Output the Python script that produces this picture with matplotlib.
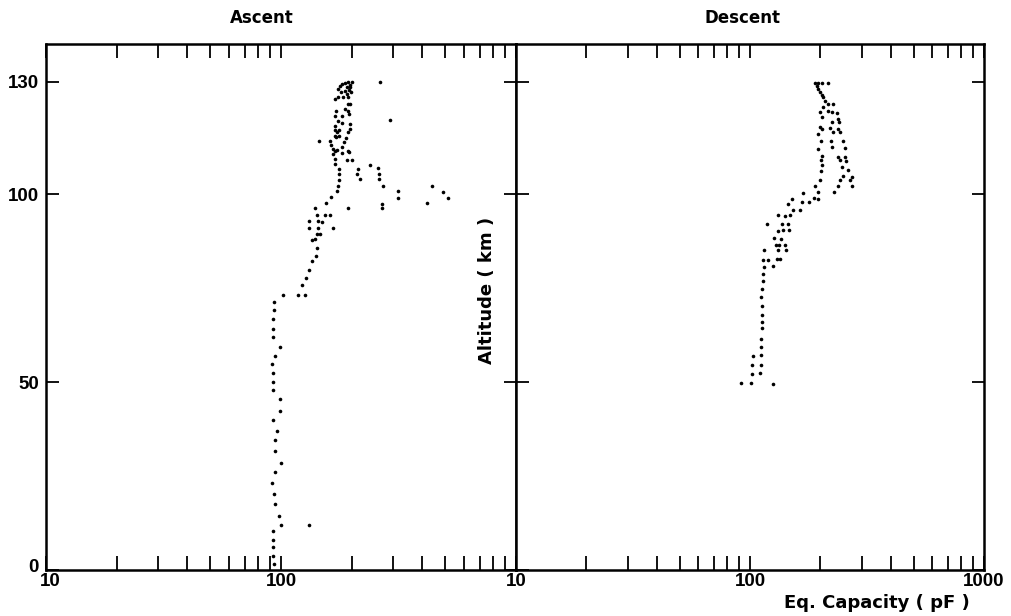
import matplotlib
matplotlib.use("Agg")
import matplotlib.pyplot as plt
import matplotlib.transforms as mtransforms
from matplotlib.ticker import FixedLocator, NullFormatter

# Ascent: altitude (km) and equivalent capacity (pF)
asc_alt = [129.8, 129.8, 129.5, 128.9, 128.0, 127.1, 127.6, 126.7, 125.8, 125.8,
           127.1, 128.5, 126.0, 125.4, 129.0, 128.5, 129.3, 127.8, 124.0, 124.0,
           122.7, 122.3, 122.3, 121.4, 120.9, 120.9, 119.6, 118.9, 118.7, 118.3,
           117.4, 117.0, 117.0, 116.5, 116.5, 115.6, 115.4, 115.2, 115.0, 114.3,
           114.3, 113.9, 113.0, 112.1, 111.6, 111.8, 112.5, 111.6, 111.2, 110.9,
           110.8, 109.4, 109.2, 109.2, 108.1, 106.8, 106.8, 107.8, 106.9, 105.4,
           104.1, 105.4, 104.1, 102.1, 105.3, 103.7, 102.1, 101.0, 99.2, 97.7,
           96.3, 97.5, 96.3, 101.0, 99.1, 97.7, 102.1, 100.7, 99.0, 129.8,
           119.8, 96.3, 94.6, 94.5, 94.4, 92.8, 92.8, 92.6, 91.1, 91.1,
           91.0, 89.5, 89.3, 88.2, 87.9, 85.7, 83.5, 82.2, 79.9, 77.8,
           75.8, 73.3, 73.3, 73.3, 71.3, 69.2, 66.7, 64.2, 61.9, 59.4,
           56.9, 54.7, 52.5, 50.1, 47.8, 45.5, 42.4, 40.0, 37.1, 34.6,
           31.6, 28.5, 26.0, 23.2, 20.3, 17.5, 14.4, 12.1, 12.1, 10.4,
           8.0, 6.2, 3.7, 1.5]
asc_cap = [200, 193, 187, 178, 175, 180, 187, 190, 184, 193,
           198, 197, 175, 170, 197, 190, 182, 194, 193, 197,
           187, 193, 172, 195, 170, 181, 174, 181, 197, 170,
           197, 176, 170, 173, 192, 169, 176, 172, 189, 145,
           162, 185, 164, 167, 170, 173, 181, 193, 195, 182,
           167, 169, 190, 200, 170, 177, 212, 240, 258, 210,
           216, 261, 262, 271, 177, 177, 174, 173, 164, 156,
           193, 270, 268, 316, 316, 419, 441, 491, 512, 264,
           291, 139, 142, 154, 162, 132, 144, 150, 131, 143,
           167, 142, 147, 140, 135, 142, 141, 136, 131, 128,
           123, 118, 126, 102, 93.3, 93.3, 92.7, 92.7, 92.7, 99.3,
           94.6, 91.9, 92.7, 92.7, 92.7, 99.3, 99.3, 92.7, 96.4, 94.6,
           94.2, 100, 94.2, 91.9, 93.7, 94.6, 98.4, 99.7, 131.6, 92.7,
           92.7, 92.7, 92.7, 93.0]

# Descent
desc_alt = [129.5, 129.5, 129.5, 129.5, 128.0, 127.1, 125.8, 124.9, 124.0, 124.0,
            123.2, 122.3, 121.8, 121.6, 121.8, 120.5, 119.2, 120.1, 119.2, 117.8,
            117.4, 117.7, 117.4, 116.5, 116.5, 116.1, 114.3, 114.3, 114.3, 112.5,
            112.4, 112.1, 110.3, 110.0, 110.0, 109.0, 109.0, 108.8, 107.7, 107.2,
            106.5, 106.3, 105.0, 104.7, 103.7, 103.7, 103.7, 102.1, 102.1, 102.1,
            100.6, 100.6, 100.4, 99.0, 98.8, 98.8, 97.5, 97.9, 97.9, 95.9,
            95.9, 94.4, 94.1, 94.4, 92.2, 92.0, 92.2, 90.2, 90.4, 90.6,
            88.4, 88.2, 86.4, 86.4, 86.4, 85.1, 85.1, 85.1, 82.4, 82.6,
            82.8, 82.8, 80.6, 81.0, 78.7, 76.9, 74.9, 72.7, 70.2, 68.0,
            66.0, 64.4, 61.6, 59.4, 56.9, 57.2, 54.5, 54.5, 52.3, 52.4,
            49.8, 49.8, 49.6, 128.8, 126.4]
desc_cap = [189.6, 196.0, 202.4, 216.3, 196.0, 199.3, 205.6, 209.2, 216.3, 227.1,
            205.6, 214.9, 223.5, 234.9, 199.3, 202.4, 223.5, 238.8, 241.1, 199.3,
            202.4, 219.9, 238.8, 227.1, 242.7, 196.0, 201.2, 222.0, 250.7, 223.5,
            254.9, 196.0, 202.4, 237.3, 253.5, 201.2, 242.7, 256.6, 202.4, 246.8,
            263.2, 201.2, 250.7, 271.9, 199.3, 242.7, 267.5, 189.6, 237.3, 273.5,
            196.0, 229.4, 169.2, 188.2, 196.0, 151.8, 144.9, 166.5, 178.7, 153.3,
            163.8, 132.1, 141.1, 148.3, 117.8, 136.5, 144.9, 131.3, 138.8, 146.8,
            127.0, 135.7, 128.7, 133.1, 141.1, 132.1, 142.5, 115.2, 114.0, 119.7,
            130.1, 134.4, 115.2, 125.8, 114.0, 114.0, 112.2, 111.4, 112.2, 112.2,
            112.2, 112.2, 111.4, 111.4, 102.6, 111.4, 101.6, 111.4, 101.6, 110.3,
            91.5, 100.9, 125.8, 193.0, 203.0]

x_major = [10, 100, 1000]
x_minor = [20, 30, 40, 50, 60, 70, 80, 90, 200, 300, 400, 500, 600, 700, 800, 900]
y_ticks = [0, 50, 100, 130]

tick_font = {"family": ["Liberation Sans", "DejaVu Sans"], "weight": "bold", "size": 13.5}
text_font = {"family": "DejaVu Sans", "weight": "bold", "size": 12}

fig = plt.figure(figsize=(10.11, 6.16), dpi=100)
ax1 = fig.add_axes([46 / 1011, 46 / 616, 470 / 1011, 526 / 616])
ax2 = fig.add_axes([516 / 1011, 46 / 616, 468 / 1011, 526 / 616])

for ax, cap, alt in [(ax1, asc_cap, asc_alt), (ax2, desc_cap, desc_alt)]:
    ax.plot(cap, alt, "o", ms=2.6, color="black", mew=0)
    ax.set_xscale("log")
    ax.set_xlim(10, 1000)
    ax.set_ylim(0, 140)
    ax.xaxis.set_major_locator(FixedLocator(x_major))
    ax.xaxis.set_minor_locator(FixedLocator(x_minor))
    ax.xaxis.set_minor_formatter(NullFormatter())
    ax.set_yticks(y_ticks)
    ax.tick_params(axis="x", which="both", direction="in", top=True,
                   length=10, width=1.3, pad=2)
    ax.tick_params(axis="y", direction="in", right=True, length=9, width=1.3, pad=5)
    for s in ax.spines.values():
        s.set_linewidth(1.8)

ax1.set_xticklabels(["10", "100", ""], fontdict=tick_font)
ax1.set_yticklabels([str(v) for v in y_ticks], fontdict=tick_font)
ax2.set_xticklabels(["10", "100", "1000"], fontdict=tick_font)
ax2.set_yticklabels([])

# nudge the corner labels apart like the scan: "10" a bit right, "0" a bit up
lab10 = ax1.get_xticklabels()[0]
lab10.set_transform(lab10.get_transform() + mtransforms.ScaledTranslation(4 / 100, 0, fig.dpi_scale_trans))
lab0 = ax1.get_yticklabels()[0]
lab0.set_transform(lab0.get_transform() + mtransforms.ScaledTranslation(0, 4 / 100, fig.dpi_scale_trans))

fig.text(262 / 1011, 1 - 18 / 616, "Ascent", ha="center", va="center", fontdict=text_font)
fig.text(742 / 1011, 1 - 18 / 616, "Descent", ha="center", va="center", fontdict=text_font)
fig.text(487 / 1011, 1 - 290 / 616, "Altitude ( km )", rotation=90,
         ha="center", va="center", fontdict={**text_font, "size": 13})
fig.text(877 / 1011, 1 - 603 / 616, "Eq. Capacity ( pF )", ha="center", va="center",
         fontdict={**text_font, "size": 13})

plt.savefig("out.png", dpi=100)
